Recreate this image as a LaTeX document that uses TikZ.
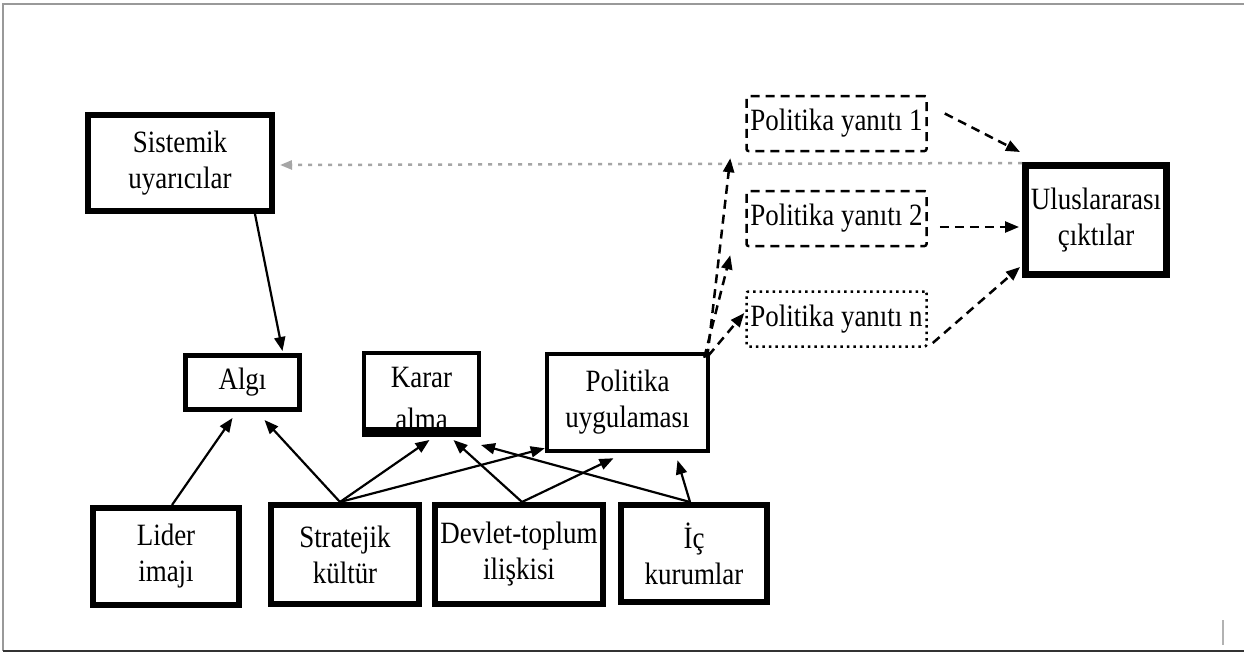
\documentclass[tikz,border=0pt]{standalone}
\usepackage{fontspec}
\setmainfont{Liberation Serif}[FakeStretch=0.87]
\usetikzlibrary{arrows.meta,calc}
\begin{document}
\begin{tikzpicture}[x=1pt,y=-1pt,
  box/.style={draw=black,line width=#1,rectangle,align=center,inner sep=2pt,
    font=\fontsize{31}{36}\selectfont},
  box/.default=6pt,
  resp/.style={draw=black,line width=2.5pt,rectangle,align=center,inner sep=2pt,
    dash pattern=on 9pt off 6pt,rounded corners=2pt,
    minimum width=180pt,minimum height=55pt,font=\fontsize{31}{36}\selectfont},
  sarrow/.style={draw=black,line width=2.2pt,-{Triangle[length=14pt,width=11pt]}},
  darrow/.style={draw=black,line width=2.5pt,dash pattern=on 9pt off 6pt,-{Triangle[length=14pt,width=11pt]}},
  garrow/.style={draw=gray!70,line width=2.5pt,dash pattern=on 4pt off 6pt,-{Triangle[length=12pt,width=9pt]}}
]
\useasboundingbox (0,0) rectangle (1244,653);
\fill[white] (0,0) rectangle (1244,653);
% frame
\draw[gray!80,line width=2.5pt] (1244,4) -- (3,4) -- (3,651);
\draw[black!80,line width=2pt] (3,651) -- (1244,651);
\draw[gray!60,line width=1.5pt] (1223,620) -- (1223,645);

% nodes
\node[box,minimum width=184pt,minimum height=96pt] (sis) at (180,163) {Sistemik\\uyarıcılar};
\node[box=5pt,minimum width=114pt,minimum height=54pt] (alg) at (242.5,382.5) {Algı};
\node[box=4pt,minimum width=115pt,minimum height=76pt] (kar) at (421.5,391) {};
\node[font=\fontsize{31}{34}\selectfont,align=center] (kartext) at (421.5,398) {Karar\\[8pt]alma};
\draw[line width=8pt] ([yshift=-2pt]kar.south west) -- ([yshift=-2pt]kar.south east);
\node[box=4.5pt,minimum width=161pt,minimum height=97pt] (pol) at (627.5,402.5) {Politika\\uygulaması};
\node[box,minimum width=146pt,minimum height=97pt] (lid) at (166,556.5) {Lider\\imajı};
\node[box,minimum width=148pt,minimum height=99pt] (str) at (345,554.5) {Stratejik\\kültür};
\node[box,minimum width=168pt,minimum height=99pt] (dev) at (519,554.5) {Devlet-toplum\\ilişkisi};
\node[box,minimum width=146pt,minimum height=97pt] (ic) at (694,553.5) {İç\\kurumlar};
\node[resp] (y1) at (836.5,123.5) {Politika yanıtı 1};
\node[resp] (y2) at (836.5,218.5) {Politika yanıtı 2};
\node[resp,dash pattern=on 2.5pt off 4pt] (yn) at (836.5,319) {Politika yanıtı n};
\node[box=7pt,minimum width=141pt,minimum height=109pt] (ulus) at (1096,220) {Uluslararası\\çıktılar};

% gray dotted feedback
\draw[garrow] ([yshift=-1pt]ulus.north west) -- ([xshift=5pt,yshift=-2pt]sis.east);

% solid arrows
\draw[sarrow] ([xshift=-20pt]sis.south east) -- ([xshift=40pt,yshift=2pt]alg.north);
\draw[sarrow] ([xshift=6pt]lid.north) -- ([xshift=-10pt,yshift=-6pt]alg.south);
\draw[sarrow] ([xshift=-5pt]str.north) -- ([xshift=22pt,yshift=-8pt]alg.south);
\draw[sarrow] ([xshift=-5pt]str.north) -- ([xshift=8pt,yshift=-9pt]kar.south);
\draw[sarrow] ([xshift=-5pt]str.north) -- ([yshift=5pt]pol.south west);
\draw[sarrow] ([xshift=3pt]dev.north) -- ([xshift=32pt,yshift=-9pt]kar.south);
\draw[sarrow] ([xshift=3pt]dev.north) -- ([xshift=-14pt,yshift=-5pt]pol.south);
\draw[sarrow] ([xshift=-4pt]ic.north) -- ([yshift=-14pt]kar.south east);
\draw[sarrow] ([xshift=-4pt]ic.north) -- ([xshift=50pt,yshift=-7pt]pol.south);

% dashed arrows to responses
\draw[darrow] ([xshift=-3pt,yshift=-6pt]pol.north east) -- ([xshift=-15pt,yshift=-6pt]y1.south west);
\draw[darrow] ([xshift=-6pt,yshift=-6pt]pol.north east) -- ([xshift=-15pt,yshift=-8pt]y2.south west);
\draw[darrow] ([xshift=-2pt,yshift=-4pt]pol.north east) -- ([xshift=-1pt,yshift=6pt]yn.west);

% dashed arrows to outcomes
\draw[darrow] ([xshift=17pt,yshift=10pt]y1.east) -- ([xshift=-2pt,yshift=10pt]ulus.north west);
\draw[darrow] ([xshift=12pt,yshift=-8.5pt]y2.east) -- ([xshift=-3pt,yshift=-7pt]ulus.west);
\draw[darrow] ([xshift=5pt,yshift=-24pt]yn.east) -- ([xshift=-2pt,yshift=11pt]ulus.south west);
\end{tikzpicture}
\end{document}
